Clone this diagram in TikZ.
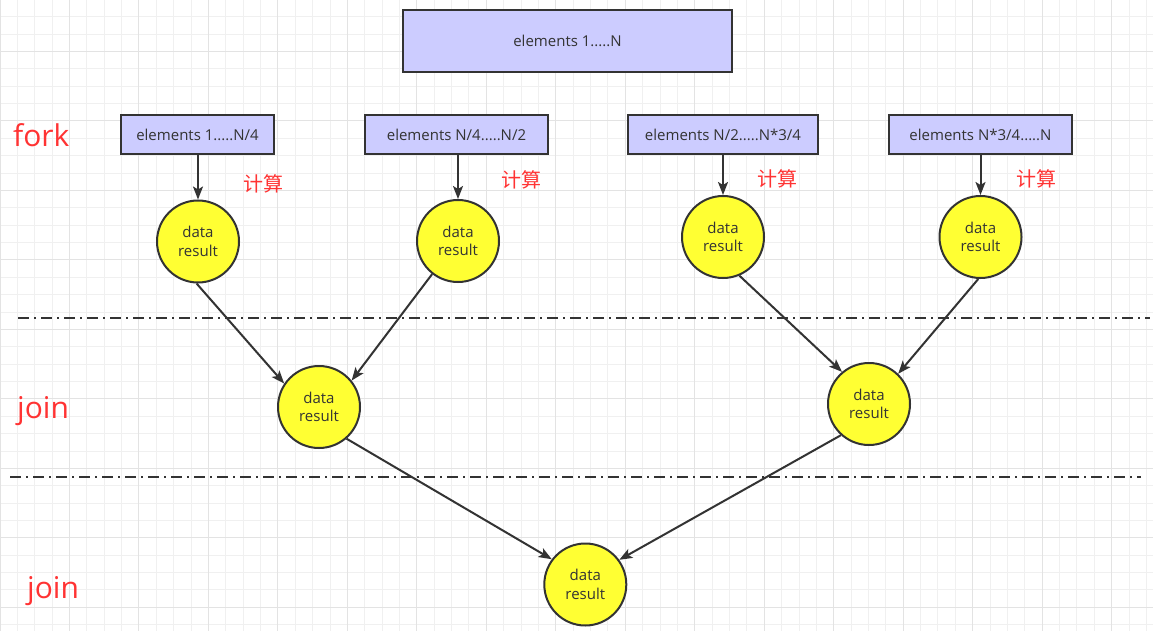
\documentclass[tikz,border=0pt]{standalone}
\usepackage{fontspec}
\setmainfont{Open Sans}
\newfontfamily\cjk{Noto Sans CJK SC}
\usetikzlibrary{arrows.meta}
\definecolor{boxfill}{HTML}{CCCCFF}
\definecolor{edge}{HTML}{333333}
\definecolor{ballfill}{HTML}{FFFF33}
\definecolor{redtxt}{HTML}{FF3333}
\definecolor{gridminor}{HTML}{F0F0F0}
\definecolor{gridmajor}{HTML}{E3E3E3}
\tikzset{
  elbox/.style={draw=edge, line width=2pt, fill=boxfill, text=edge, font=\fontsize{15pt}{18pt}\selectfont, inner sep=0pt, minimum height=39pt},
  ball/.style={circle, draw=edge, line width=2pt, fill=ballfill, text=edge, minimum size=82pt, inner sep=0pt, align=center, font=\fontsize{15pt}{18.5pt}\selectfont},
  conn/.style={draw=edge, line width=2pt, -{Stealth[length=13pt,width=10pt,inset=3pt]}},
  sep/.style={draw=edge, line width=2pt, dash pattern=on 11pt off 5pt on 2pt off 5pt},
  calc/.style={text=redtxt, font=\cjk\fontsize{20pt}{24pt}\selectfont, inner sep=0pt},
  phase/.style={text=redtxt, font=\fontsize{30pt}{36pt}\selectfont, inner sep=0pt, anchor=base west},
  gmin/.style={draw=gridminor, line width=1pt},
  gmaj/.style={draw=gridmajor, line width=1pt}
}
\begin{document}
\begin{tikzpicture}[x=1pt,y=-1pt]
\useasboundingbox (0,0) rectangle (1153,631);
\fill[white] (0,0) rectangle (1153,631);
\begin{scope}
\clip (0,0) rectangle (1153,631);
\foreach \i in {0,...,66} { \draw[gmin] ({\i*17.37},0) -- ({\i*17.37},631); }
\foreach \i in {-3,...,34} { \draw[gmin] (0,{51.5+\i*17.37}) -- (1153,{51.5+\i*17.37}); }
\foreach \i in {0,...,16} { \draw[gmaj] ({\i*69.48},0) -- ({\i*69.48},631); }
\foreach \i in {-1,...,9} { \draw[gmaj] (0,{51.5+\i*69.48}) -- (1153,{51.5+\i*69.48}); }
\end{scope}

% separators
\coordinate (s1a) at (18,318);
\coordinate (s1b) at (1150,318);
\coordinate (s2a) at (10,477);
\coordinate (s2b) at (1141,477);
\draw[sep] (s1a) -- (s1b);
\draw[sep] (s2a) -- (s2b);

% top box
\node[elbox, minimum width=329pt, minimum height=62pt] (top) at (567.5,41) {elements 1.....N};

% fork boxes
\node[elbox, minimum width=153pt] (b1) at (197.5,134.5) {elements 1.....N/4};
\node[elbox, minimum width=183pt] (b2) at (456.5,134.5) {elements N/4.....N/2};
\node[elbox, minimum width=190pt] (b3) at (723,134.5) {elements N/2.....N*3/4};
\node[elbox, minimum width=183pt] (b4) at (980.5,134.5) {elements N*3/4.....N};

% first row of results
\node[ball] (c1) at (198,241.5) {data\\result};
\node[ball] (c2) at (458,241) {data\\result};
\node[ball] (c3) at (723,237) {data\\result};
\node[ball] (c4) at (980.5,237) {data\\result};

% second row
\node[ball] (d1) at (319,407) {data\\result};
\node[ball] (d2) at (869,404) {data\\result};

% final
\node[ball] (e) at (585.3,584.5) {data\\result};

% labels
\node[calc] (k1) at (263,184) {计算};
\node[calc] (k2) at (521,180) {计算};
\node[calc] (k3) at (777,179) {计算};
\node[calc] (k4) at (1036.5,179) {计算};
\node[phase] (fork) at (13,146.5) {fork};
\node[phase] (join1) at (17,418) {join};
\node[phase] (join2) at (27,598) {join};

% connectors
\draw[conn] (b1.south -| c1) -- (c1.north);
\draw[conn] (b2.south -| c2) -- (c2.north);
\draw[conn] (b3.south -| c3) -- (c3.north);
\draw[conn] (b4.south -| c4) -- (c4.north);
\draw[conn] (c1.268) -- (d1.146);
\draw[conn] (c2.232) -- (d1.39);
\draw[conn] (c3.293) -- (d2.130);
\draw[conn] (c4.267) -- (d2.46);
\draw[conn] (d1.311) -- (e.143);
\draw[conn] (d2.228) -- (e.36);
\end{tikzpicture}
\end{document}
